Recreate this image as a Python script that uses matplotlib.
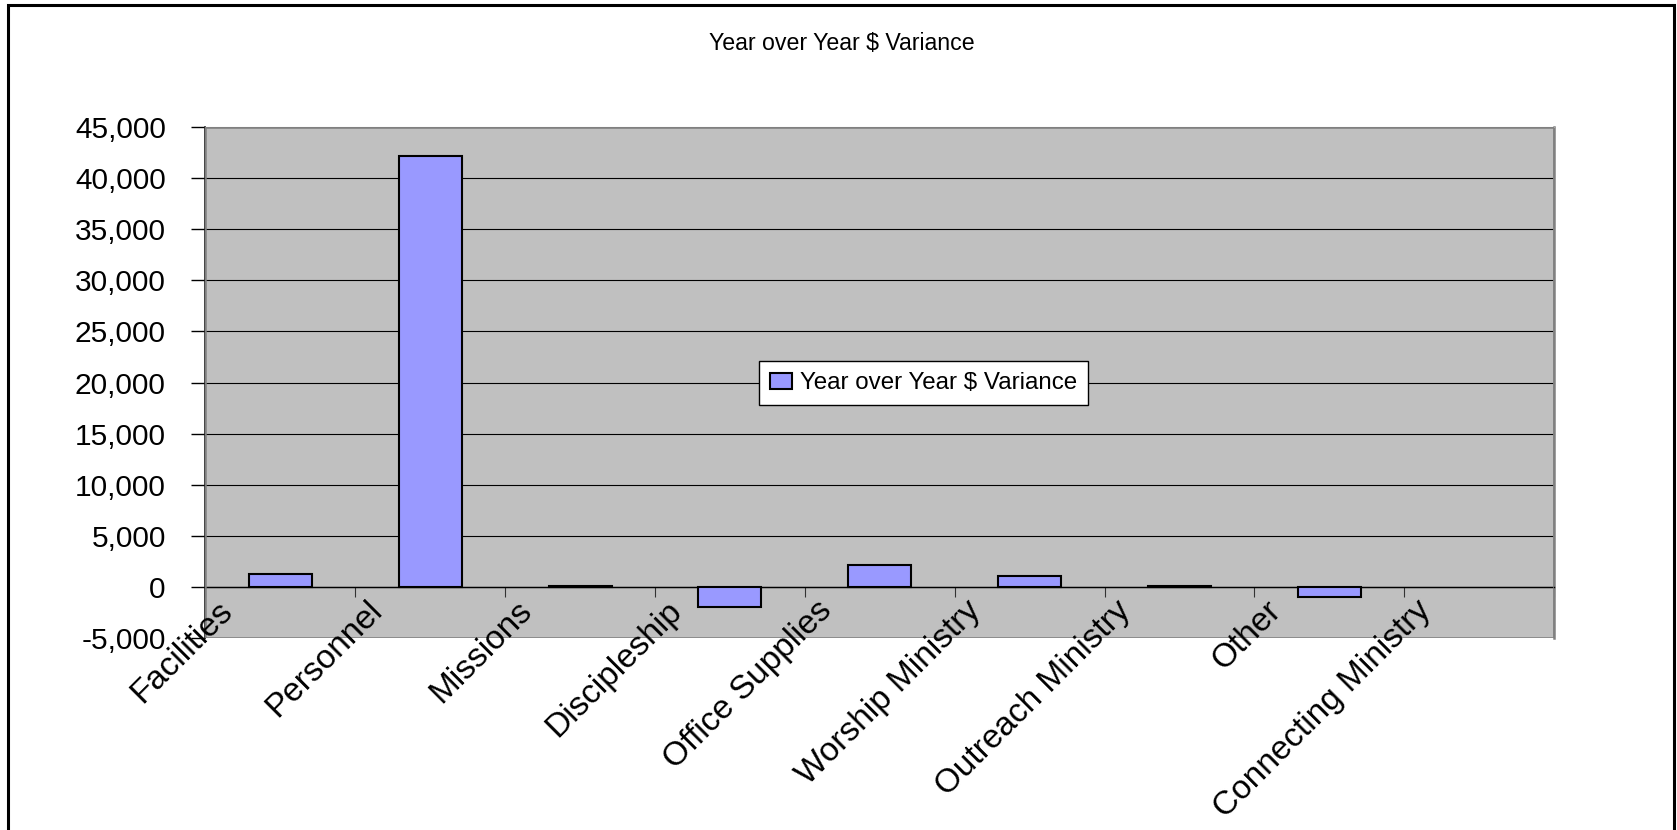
import matplotlib
matplotlib.use("Agg")
import matplotlib.pyplot as plt
import matplotlib.transforms as mtransforms
from matplotlib.patches import Rectangle
from matplotlib.ticker import FuncFormatter, MultipleLocator
import numpy as np

# chart data
categories = ['Facilities', 'Personnel', 'Missions', 'Discipleship', 'Office Supplies',
              'Worship Ministry', 'Outreach Ministry', 'Other', 'Connecting Ministry']
variance = [1300, 42100, 150, -1900, 2200, 1100, 150, -1000, 0]
series_name = 'Year over Year $ Variance'
chart_title = 'Year over Year $ Variance'

plt.rcParams['font.family'] = ['Liberation Sans', 'DejaVu Sans']

fig = plt.figure(figsize=(16.77, 8.30), dpi=100)
ax = fig.add_axes([0.1225, 0.2310, 0.8042, 0.6163])
ax.set_facecolor('#C0C0C0')

x = np.arange(len(categories))
bars = ax.bar(x, variance, width=0.42, color='#9999FF', edgecolor='black',
              linewidth=1.5, zorder=3, label=series_name)
# Excel draws nothing for an empty (zero) bar
for b, v in zip(bars, variance):
    if v == 0:
        b.set_linewidth(0)

# y axis
ax.set_ylim(-5000, 45000)
ax.yaxis.set_major_locator(MultipleLocator(5000))
ax.yaxis.set_major_formatter(FuncFormatter(lambda v, pos: f'{v:,.0f}'))
ax.yaxis.grid(True, color='black', linewidth=0.8)
ax.set_axisbelow(True)
ax.tick_params(axis='y', direction='out', length=10, width=1, pad=18.5,
               labelsize=21.5, colors='black')

# category axis crosses at zero, ticks between categories
ax.set_xlim(-0.5, len(categories) - 0.5)
ax.spines['bottom'].set_position(('data', 0))
ax.spines['bottom'].set_linewidth(1)
ax.set_xticks(np.arange(len(categories) + 1) - 0.5)
ax.tick_params(axis='x', direction='out', length=7.2, width=0.8,
               labelbottom=False, colors='#333333')

ax.spines['left'].set_color('#222222')
ax.spines['left'].set_linewidth(1.2)
ax.spines['top'].set_color('#A8A8A8')
ax.spines['right'].set_color('#808080')
ax.spines['right'].set_linewidth(1.8)
ax.add_patch(Rectangle((0, 0), 1, 1, transform=ax.transAxes, fill=False,
                       edgecolor='#808080', linewidth=1.8, zorder=2.6))

# rotated category labels hanging below the zero line
label_trans = mtransforms.offset_copy(
    mtransforms.blended_transform_factory(ax.transData, ax.transData),
    fig=fig, x=-64, y=-8, units='dots')
for xi, name in zip(x, categories):
    ax.text(xi, 0, name, transform=label_trans, rotation=45, rotation_mode='anchor',
            ha='right', va='top', fontsize=24, color='black', clip_on=False)

# legend
leg = ax.legend(loc='center', bbox_to_anchor=(0.5325, 0.4984), fontsize=17.4,
                frameon=True, fancybox=False, edgecolor='black', framealpha=1,
                handlelength=0.91, handleheight=0.66, handletextpad=0.35,
                borderpad=0.45)
leg.get_frame().set_linewidth(1)

# title
fig.text(0.502, 1 - 43.3 / 830, chart_title, ha='center', va='center',
         fontsize=16.7, color='black')

# outer chart frame
fig.add_artist(Rectangle((7.6 / 1677, -0.02), (1674 - 7.6) / 1677, 1 - 5 / 830 + 0.02,
                         transform=fig.transFigure, fill=False, edgecolor='black',
                         linewidth=2.2))

fig.savefig('out.png', dpi=100)
